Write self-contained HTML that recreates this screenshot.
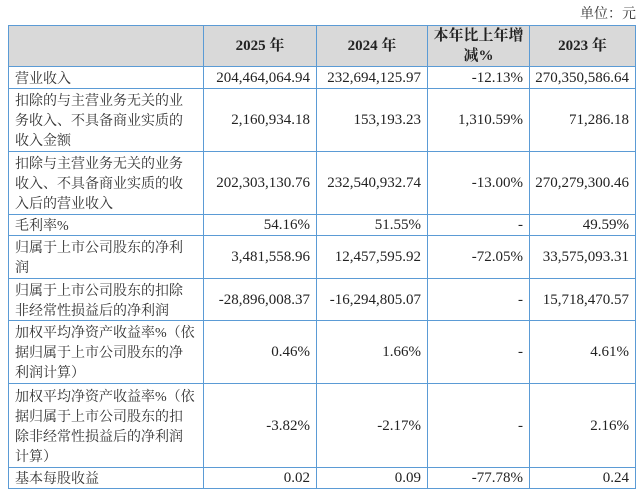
<!DOCTYPE html>
<html><head><meta charset="utf-8"><style>
body{margin:0;background:#fff;width:644px;height:495px;overflow:hidden;font-family:"Liberation Serif","Noto Serif CJK SC",serif;color:#222;}
.u{position:absolute;right:8px;top:3px;font-size:14px;color:#333;}
table{position:absolute;left:8px;top:25px;border-collapse:collapse;table-layout:fixed;}
td{border:1px solid #5b9bd5;padding:0 6px 0 2px;font-size:15px;line-height:20px;text-align:right;vertical-align:middle;box-sizing:border-box;white-space:nowrap;overflow:hidden;}
td.l{text-align:left;color:#333;padding:0 0 0 6px;font-size:14px;line-height:20px;white-space:normal;}
td.l span{position:relative;top:2px;}
tr.h td{background:#d9d9d9;font-weight:bold;text-align:center;line-height:20px;padding:0;}
</style></head><body>
<div class="u">单位：元</div>
<table>
<colgroup><col style="width:195px"><col style="width:113px"><col style="width:111px"><col style="width:102px"><col style="width:106px"></colgroup>
<tr class="h" style="height:41px"><td></td><td>2025 年</td><td>2024 年</td><td>本年比上年增<br>减%</td><td>2023 年</td></tr>
<tr style="height:22px"><td class="l"><span>营业收入</span></td><td>204,464,064.94</td><td>232,694,125.97</td><td>-12.13%</td><td>270,350,586.64</td></tr>
<tr style="height:63px"><td class="l"><span>扣除的与主营业务无关的业<br>务收入、不具备商业实质的<br>收入金额</span></td><td>2,160,934.18</td><td>153,193.23</td><td>1,310.59%</td><td>71,286.18</td></tr>
<tr style="height:63px"><td class="l"><span>扣除与主营业务无关的业务<br>收入、不具备商业实质的收<br>入后的营业收入</span></td><td>202,303,130.76</td><td>232,540,932.74</td><td>-13.00%</td><td>270,279,300.46</td></tr>
<tr style="height:21px"><td class="l"><span>毛利率%</span></td><td>54.16%</td><td>51.55%</td><td>-</td><td>49.59%</td></tr>
<tr style="height:43px"><td class="l"><span>归属于上市公司股东的净利<br>润</span></td><td>3,481,558.96</td><td>12,457,595.92</td><td>-72.05%</td><td>33,575,093.31</td></tr>
<tr style="height:42px"><td class="l"><span>归属于上市公司股东的扣除<br>非经常性损益后的净利润</span></td><td>-28,896,008.37</td><td>-16,294,805.07</td><td>-</td><td>15,718,470.57</td></tr>
<tr style="height:63px"><td class="l"><span>加权平均净资产收益率%（依<br>据归属于上市公司股东的净<br>利润计算）</span></td><td>0.46%</td><td>1.66%</td><td>-</td><td>4.61%</td></tr>
<tr style="height:84px"><td class="l"><span>加权平均净资产收益率%（依<br>据归属于上市公司股东的扣<br>除非经常性损益后的净利润<br>计算）</span></td><td>-3.82%</td><td>-2.17%</td><td>-</td><td>2.16%</td></tr>
<tr style="height:21px"><td class="l"><span>基本每股收益</span></td><td>0.02</td><td>0.09</td><td>-77.78%</td><td>0.24</td></tr>
</table>
</body></html>
